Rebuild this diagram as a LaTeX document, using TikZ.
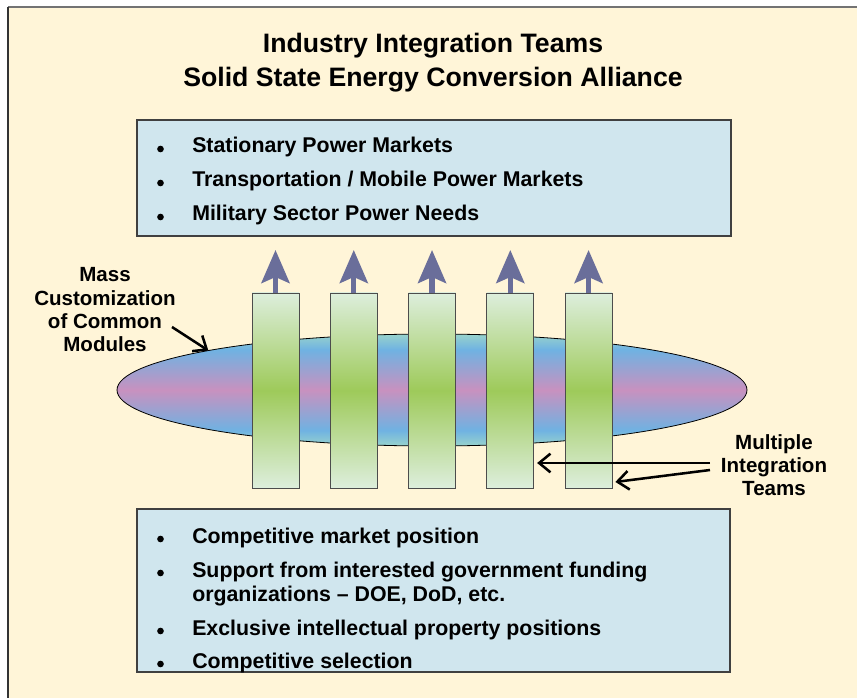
\documentclass[tikz,border=0pt]{standalone}
\usepackage{fontspec}
\setmainfont{Liberation Sans}
\usepackage{tikz}
\usetikzlibrary{shapes.geometric,arrows.meta,positioning,calc}
\definecolor{cream}{RGB}{255,245,216}
\definecolor{paleblue}{RGB}{208,230,238}
\definecolor{teamgreen}{RGB}{158,202,90}
\definecolor{teamlight}{RGB}{221,238,220}
\definecolor{bandblue}{RGB}{111,178,226}
\definecolor{bandpink}{RGB}{200,145,191}
\definecolor{bandteal}{RGB}{152,211,204}
\definecolor{slate}{RGB}{106,110,154}
\pgfdeclareverticalshading{moduleband}{100bp}{color(0bp)=(bandteal); color(25bp)=(bandteal);
  color(32bp)=(bandblue); color(50bp)=(bandpink); color(68bp)=(bandblue);
  color(75bp)=(bandteal); color(100bp)=(bandteal)}

\begin{document}
\begin{tikzpicture}[x=0.75pt, y=-0.75pt, node distance=58.7pt,
    infobox/.style={rectangle, draw=black!75, line width=1.2pt, fill=paleblue, inner sep=0pt},
    item/.style={anchor=base west, inner sep=0pt, font=\fontsize{16}{18}\selectfont\bfseries, align=left},
    dot/.style={circle, fill=black, inner sep=0pt, minimum size=5pt},
    team/.style={rectangle, draw=black!70, line width=0.7pt, inner sep=0pt, outer sep=0pt,
      minimum width=35.25pt, minimum height=146.25pt,
      top color=teamlight, bottom color=teamlight, middle color=teamgreen},
    uparr/.style={-{Stealth[length=24.75pt, width=21pt, inset=4.5pt]}, line width=4pt, draw=slate, fill=slate},
    callout/.style={-{Straight Barb[length=8.5pt, width=14pt]}, line width=1.9pt},
    note/.style={align=center, inner sep=0pt, font=\fontsize{15.4}{17.5}\selectfont\bfseries}]

    % page background and frame
    \useasboundingbox (0,0) rectangle (857,698);
    \fill[white] (0,0) rectangle (857,698);
    \fill[cream] (8,7) rectangle (857,698);
    \draw[black!55, line width=1.5pt] (8,7) -- (857,7);
    \draw[black!80, line width=1.5pt] (8,7) -- (8,698);

    % title
    \node[anchor=base, inner sep=0pt, font=\fontsize{20}{24}\selectfont\bfseries] (title1) at (433,53) {Industry Integration Teams};
    \node[anchor=base, inner sep=0pt, font=\fontsize{20}{24}\selectfont\bfseries] (title2) at (433,87) {Solid State Energy Conversion Alliance};

    % markets box
    \node[infobox, minimum width=445.5pt, minimum height=87pt] (markets) at (434,178) {};
    \node[item] (m1) at (192,153) {Stationary Power Markets};
    \node[item] (m2) at (192,187) {Transportation / Mobile Power Markets};
    \node[item] (m3) at (192,221) {Military Sector Power Needs};

    % common modules band
    \node[ellipse, draw=black, line width=0.6pt, inner sep=0pt, outer sep=0pt,
      minimum width=472.5pt, minimum height=84pt, shading=moduleband] (modules) at (432,390) {};

    % integration teams
    \node[team] (t1) at (275.5,390.5) {};
    \node[team, right of=t1] (t2) {};
    \node[team, right of=t2] (t3) {};
    \node[team, right of=t3] (t4) {};
    \node[team, right of=t4] (t5) {};
    \foreach \i in {1,...,5} {
        \coordinate (tip\i) at ([yshift=32.25pt]t\i.north);
        \draw[uparr] (t\i.north) -- (tip\i);
    }

    % labels
    \node[note] (mass) at (105,310) {Mass\\Customization\\of Common\\Modules};
    \coordinate (massfrom) at (172,327);
    \draw[callout] (massfrom) -- (modules.170);

    \node[note] (multi) at (774,465) {Multiple\\Integration\\Teams};
    \coordinate (multi1) at (710,463);
    \coordinate (multi2) at (710,470);
    \draw[callout] (multi1) -- ($(multi1 -| t4.east)+(2.5pt,0)$);
    \draw[callout] (multi2) -- ([shift={(2.5pt,-68.6pt)}]t5.east);

    % benefits box
    \node[infobox, minimum width=444.75pt, minimum height=122.25pt] (benefits) at (433.5,590.5) {};
    \node[item] (b1) at (192,543) {Competitive market position};
    \node[item, anchor=north west] (b2) at (192,562) {Support from interested government funding\\organizations -- DOE, DoD, etc.};
    \node[item] (b3) at (192,635) {Exclusive intellectual property positions};
    \node[item] (b4) at (192,668) {Competitive selection};

    % bullets
    \foreach \y [count=\n] in {149,183,217} \node[dot] (mdot\n) at (160.5,\y) {};
    \foreach \y [count=\n] in {539,573,631,664} \node[dot] (bdot\n) at (160.5,\y) {};
\end{tikzpicture}
\end{document}
